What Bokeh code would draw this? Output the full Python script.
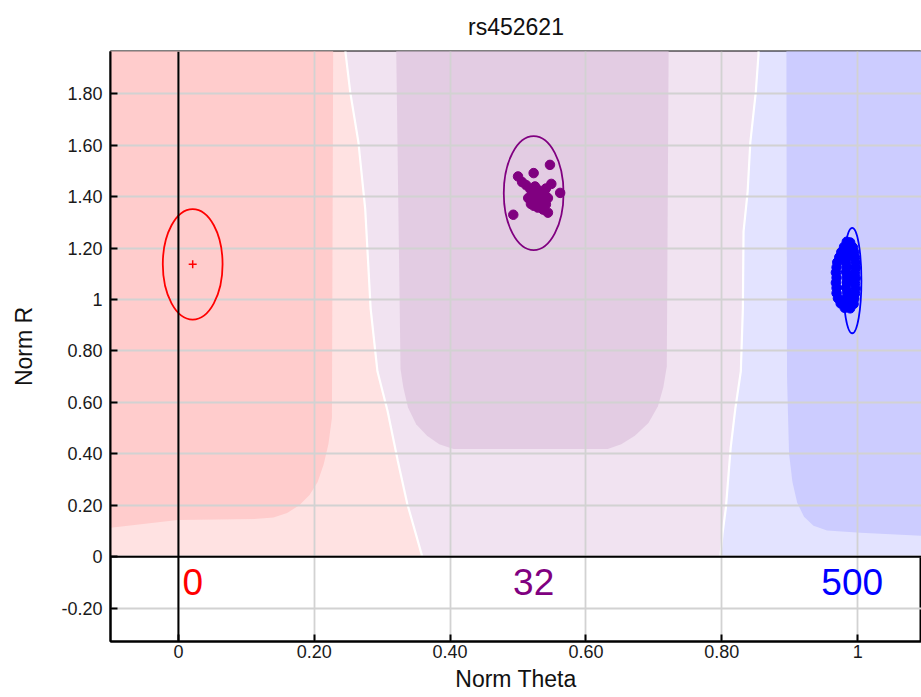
from bokeh.plotting import figure
from bokeh.models import Range1d, Span, FixedTicker
from bokeh.core.properties import value
from bokeh.embed import file_html
from bokeh.resources import INLINE

FONT = "Liberation Sans"

# --- cluster summary (AA, AB, BB) ---
cluster_names = ["AA", "AB", "BB"]
cluster_theta = [0.021, 0.523, 0.992]
cluster_r = [1.137, 1.414, 1.074]
cluster_theta_width = [0.088, 0.088, 0.027]
cluster_r_height = [0.430, 0.443, 0.410]
cluster_counts = [0, 32, 500]
cluster_colors = ["#FF0000", "#800080", "#0000FF"]
count_label_r = -0.097

# --- samples called AB ---
ab_theta = [0.547, 0.523, 0.500, 0.506, 0.549, 0.562, 0.493, 0.544,
            0.512, 0.518, 0.525, 0.530, 0.536, 0.541, 0.522, 0.528,
            0.534, 0.540, 0.515, 0.520, 0.526, 0.532, 0.538, 0.544,
            0.523, 0.529, 0.535, 0.541, 0.519, 0.531, 0.527, 0.537]
ab_r = [1.524, 1.492, 1.479, 1.457, 1.450, 1.415, 1.330, 1.338,
        1.445, 1.430, 1.440, 1.425, 1.418, 1.432, 1.410, 1.405,
        1.398, 1.405, 1.395, 1.385, 1.380, 1.372, 1.385, 1.395,
        1.365, 1.358, 1.362, 1.370, 1.372, 1.390, 1.420, 1.350]

# --- samples called BB ---
bb_theta = [0.984, 0.989,
            0.980, 0.987, 0.993,
            0.976, 0.985, 0.995,
            0.973, 0.984, 0.996,
            0.970, 0.983, 0.997,
            0.969, 0.984, 0.997,
            0.968, 0.983, 0.996,
            0.969, 0.985, 0.997,
            0.968, 0.984, 0.996,
            0.969, 0.983, 0.997,
            0.969, 0.985, 0.996,
            0.971, 0.984, 0.995,
            0.975, 0.986, 0.994,
            0.981, 0.989]
bb_r = [1.225, 1.222,
        1.205, 1.207, 1.203,
        1.185, 1.188, 1.183,
        1.165, 1.167, 1.163,
        1.145, 1.147, 1.143,
        1.125, 1.127, 1.123,
        1.105, 1.107, 1.103,
        1.085, 1.087, 1.083,
        1.065, 1.067, 1.063,
        1.045, 1.047, 1.043,
        1.025, 1.027, 1.023,
        1.005, 1.007, 1.003,
        0.985, 0.987, 0.983,
        0.968, 0.966]

# --- call-region boundaries (top to bottom) ---
aa_ab_theta = [0.244, 0.246, 0.253, 0.265, 0.275, 0.283, 0.293, 0.308, 0.323, 0.337, 0.359]
aa_ab_r = [2.10, 1.961, 1.806, 1.612, 1.353, 0.965, 0.721, 0.566, 0.372, 0.205, 0.0]
ab_bb_theta = [0.855, 0.854, 0.850, 0.842, 0.838, 0.832, 0.831, 0.828, 0.820, 0.813, 0.806, 0.801, 0.798]
ab_bb_r = [2.10, 1.953, 1.806, 1.612, 1.419, 1.264, 0.965, 0.721, 0.578, 0.422, 0.190, 0.089, 0.0]

# --- high-confidence cores ---
aa_core_theta = [-0.2, -0.1, -0.001, 0.116, 0.140, 0.160, 0.178, 0.193, 0.205, 0.214,
                 0.221, 0.226, 0.228, -0.2]
aa_core_r = [0.105, 0.112, 0.143, 0.147, 0.152, 0.170, 0.200, 0.240, 0.290, 0.360,
             0.440, 0.540, 2.10, 2.10]
ab_core_theta = [0.320, 0.327, 0.331, 0.338, 0.350, 0.366, 0.384, 0.405,
                 0.632, 0.652, 0.672, 0.692, 0.706, 0.714, 0.719, 0.722]
ab_core_r = [2.10, 0.730, 0.660, 0.580, 0.515, 0.470, 0.437, 0.419,
             0.419, 0.437, 0.470, 0.520, 0.585, 0.660, 0.740, 2.10]
bb_core_theta = [0.895, 0.896, 0.899, 0.904, 0.911, 0.921, 0.935, 0.955, 1.004, 1.094, 1.2, 1.2]
bb_core_r = [2.10, 0.700, 0.400, 0.290, 0.210, 0.155, 0.120, 0.102, 0.093, 0.081, 0.078, 2.10]

region_light = ["#FFE2E2", "#F1E3F1", "#E3E3FF"]
region_dark = ["#FFCCCC", "#E3CCE3", "#CCCCFF"]

x_ticks = [0, 0.2, 0.4, 0.6, 0.8, 1.0]
x_tick_labels = ["0", "0.20", "0.40", "0.60", "0.80", "1"]
y_ticks = [-0.2, 0, 0.2, 0.4, 0.6, 0.8, 1.0, 1.2, 1.4, 1.6, 1.8]
y_tick_labels = ["-0.20", "0", "0.20", "0.40", "0.60", "0.80", "1", "1.20", "1.40", "1.60", "1.80"]

p = figure(width=921, height=697,
           x_range=Range1d(-0.1, 1.094), y_range=Range1d(-0.33, 1.965),
           output_backend="svg", toolbar_location=None,
           min_border_left=110, min_border_right=0,
           min_border_top=50, min_border_bottom=56,
           title="rs452621")

p.title.text_font = FONT
p.title.text_font_size = "23px"
p.title.text_font_style = "normal"
p.title.text_color = "#111111"
p.title.align = "center"
p.title.standoff = 23

# light call regions (r >= 0)
top = 2.10
aa_light_x = [-0.2, -0.2] + aa_ab_theta
aa_light_y = [0.0, top] + aa_ab_r
ab_light_x = aa_ab_theta + ab_bb_theta[::-1]
ab_light_y = aa_ab_r + ab_bb_r[::-1]
bb_light_x = ab_bb_theta + [1.2, 1.2]
bb_light_y = ab_bb_r + [0.0, top]

for xs, ys, c in [(aa_light_x, aa_light_y, region_light[0]),
                  (ab_light_x, ab_light_y, region_light[1]),
                  (bb_light_x, bb_light_y, region_light[2])]:
    p.patch(xs, ys, fill_color=c, line_color=None, level="image")

for xs, ys, c in [(aa_core_theta, aa_core_r, region_dark[0]),
                  (ab_core_theta, ab_core_r, region_dark[1]),
                  (bb_core_theta, bb_core_r, region_dark[2])]:
    p.patch(xs, ys, fill_color=c, line_color=None, level="image")

for xs, ys in [(aa_ab_theta, aa_ab_r), (ab_bb_theta, ab_bb_r)]:
    p.line(xs, ys, line_color="white", line_width=2.2, level="image")

# grid
for g in (p.xgrid, p.ygrid):
    g.grid_line_color = "#D2D2D2"
    g.grid_line_width = 1.8
p.xgrid.ticker = FixedTicker(ticks=x_ticks)
p.ygrid.ticker = FixedTicker(ticks=y_ticks)

# axes
p.xaxis.ticker = FixedTicker(ticks=x_ticks)
p.yaxis.ticker = FixedTicker(ticks=y_ticks)
p.xaxis.major_label_overrides = dict(zip(x_ticks, x_tick_labels))
p.yaxis.major_label_overrides = dict(zip(y_ticks, y_tick_labels))
for ax in (p.xaxis[0], p.yaxis[0]):
    ax.axis_line_color = "black"
    ax.axis_line_width = 2
    ax.major_tick_in = 7
    ax.major_tick_out = 0
    ax.major_tick_line_color = "black"
    ax.major_tick_line_width = 2
    ax.minor_tick_line_color = None
    ax.major_label_text_font = FONT
    ax.major_label_text_font_size = "18px"
    ax.major_label_text_color = "#1a1a1a"
    ax.axis_label_text_font = FONT
    ax.axis_label_text_font_size = "23px"
    ax.axis_label_text_font_style = "normal"
    ax.axis_label_text_color = "#111111"
p.xaxis.axis_label = "Norm Theta"
p.yaxis.axis_label = "Norm R"
p.xaxis.major_label_standoff = 3
p.xaxis.axis_label_standoff = 5
p.yaxis.major_label_standoff = 8
p.yaxis.axis_label_standoff = 21

p.outline_line_color = "black"
p.outline_line_width = 2
p.background_fill_color = "white"
p.border_fill_color = "white"

# zero lines
p.add_layout(Span(location=0, dimension="height", line_color="black", line_width=2))
p.add_layout(Span(location=0, dimension="width", line_color="black", line_width=2))

# cluster ellipses
p.ellipse(x=cluster_theta, y=cluster_r, width=cluster_theta_width, height=cluster_r_height,
          fill_alpha=0, line_color=cluster_colors, line_width=1.8)

# samples
p.scatter(ab_theta, ab_r, size=9.5, color=cluster_colors[1])
p.scatter(bb_theta, bb_r, size=9.5, color=cluster_colors[2])

# AA cluster mean marker (no samples)
p.scatter(x=[cluster_theta[0]], y=[cluster_r[0]], marker="cross", size=8,
          line_color=cluster_colors[0], line_width=1.5)

# sample counts per cluster
p.text(x=cluster_theta, y=[count_label_r] * 3, text=[str(c) for c in cluster_counts],
       text_color=cluster_colors, text_font=value(FONT), text_font_size="37px",
       text_align="center", text_baseline="alphabetic")

open("out.html", "w").write(file_html(p, INLINE))
